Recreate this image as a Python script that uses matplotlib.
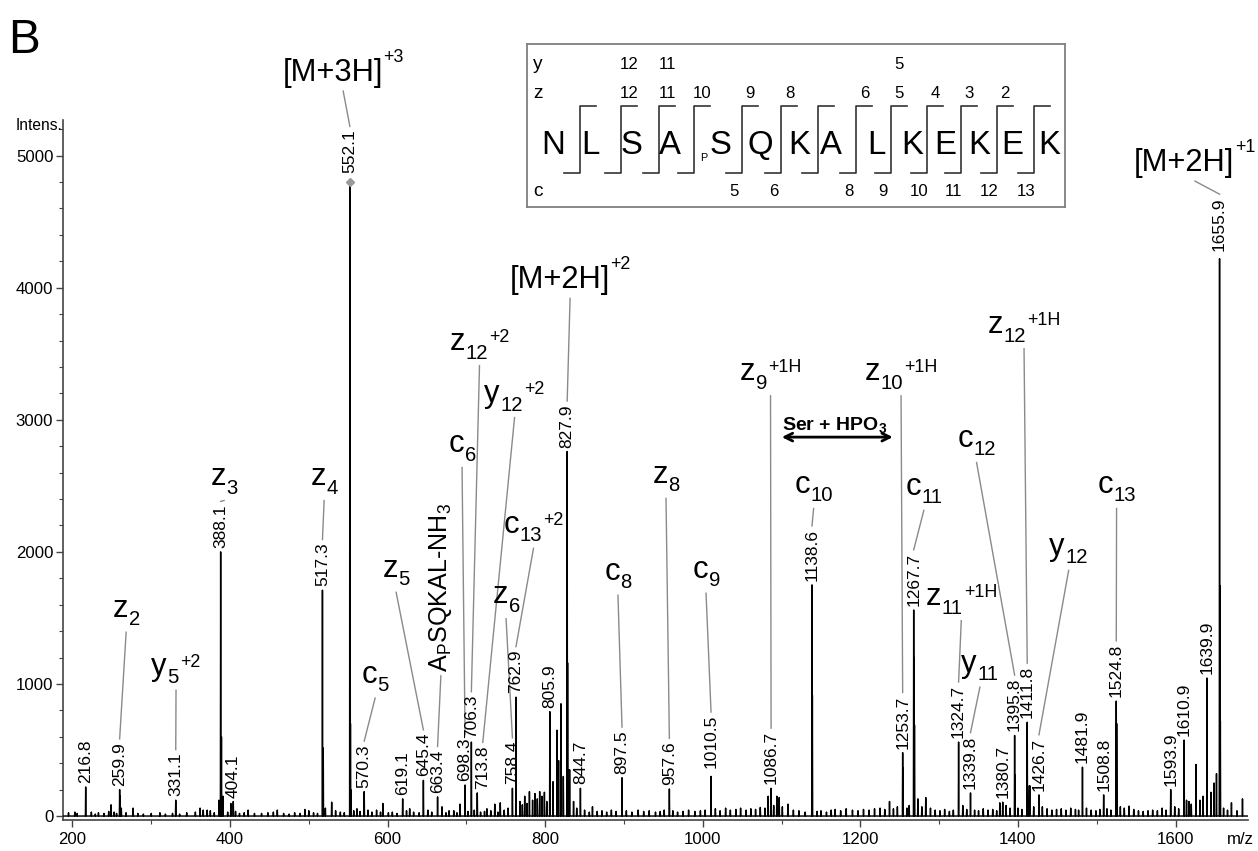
import numpy as np
import matplotlib.pyplot as plt
from matplotlib import font_manager
from matplotlib.ticker import MultipleLocator

# condensed sans if available, otherwise the normal one a little smaller
have = {f.name for f in font_manager.fontManager.ttflist}
if 'Liberation Sans Narrow' in have:
    FONT, FS = 'Liberation Sans Narrow', 1.0
else:
    FONT, FS = 'Liberation Sans', 0.86
plt.rcParams['font.family'] = [FONT, 'DejaVu Sans']
plt.rcParams['mathtext.fontset'] = 'custom'
plt.rcParams['mathtext.rm'] = FONT
plt.rcParams['mathtext.bf'] = 'Liberation Sans:bold'

# annotated peaks (m/z, intensity)
peak_mz = [216.8, 259.9, 331.1, 388.1, 404.1, 517.3, 552.1, 570.3, 619.1, 645.4,
           663.4, 698.3, 706.3, 713.8, 758.4, 762.9, 805.9, 827.9, 844.7, 897.5,
           957.6, 1010.5, 1086.7, 1138.6, 1253.7, 1267.7, 1324.7, 1339.8, 1380.7, 1395.8,
           1411.8, 1426.7, 1481.9, 1508.8, 1524.8, 1593.9, 1610.9, 1639.9, 1655.9]
peak_int = [220, 200, 120, 2000, 110, 1710, 4800, 185, 130, 270,
            145, 235, 560, 175, 210, 900, 790, 2760, 210, 290,
            205, 300, 210, 1750, 480, 1560, 560, 175, 105, 610,
            710, 160, 370, 160, 870, 200, 575, 1045, 4220]

# isotope / shoulder peaks next to the annotated ones
iso_mz = [260.4, 389.1, 518.3, 552.4, 552.8, 553.1, 828.4, 828.9, 1139.1,
          1254.2, 1268.2, 1268.7, 1396.3, 1412.3, 1525.3, 1656.4, 1656.9]
iso_int = [150, 600, 515, 2330, 700, 200, 1160, 350, 915,
           365, 1200, 690, 310, 230, 700, 1745, 720]

# small unlabelled peaks
low_mz = [195, 203, 206, 224, 229, 233, 240, 246, 249, 253,
          256, 262, 268, 277, 283, 290, 300, 311, 318, 327,
          336, 345, 356, 362, 366, 371, 375, 380, 386, 391,
          397, 401, 407, 412, 418, 423, 431, 440, 448, 455,
          460, 468, 475, 482, 489, 495, 500, 506, 511, 521,
          529, 534, 540, 545]
low_int = [25, 30, 20, 30, 15, 25, 20, 35, 85, 30,
           20, 60, 25, 60, 20, 15, 20, 25, 15, 20,
           15, 25, 30, 60, 45, 45, 40, 25, 120, 150,
           30, 95, 35, 20, 25, 45, 20, 20, 25, 30,
           45, 20, 15, 25, 20, 50, 40, 25, 20, 60,
           105, 40, 30, 25]

mid_mz = [557, 561, 565, 575, 580, 586, 591, 594, 601, 606,
          612, 624, 628, 633, 640, 651, 656, 669, 674, 678,
          684, 688, 692, 702, 710, 718, 723, 726, 731, 736,
          740, 743, 748, 753, 768, 771, 774, 777, 780, 784,
          787, 790, 793, 796, 799, 802, 810, 815, 817, 820,
          823, 831, 836, 840, 850, 856, 860, 866, 872, 878,
          884, 890, 903, 910, 918, 925, 932, 940, 946, 951,
          962, 968, 975, 982, 990, 997, 1003, 1016, 1022, 1029,
          1035, 1042, 1048, 1055, 1061, 1067, 1073, 1079, 1083, 1090,
          1094, 1097, 1101, 1108, 1115, 1122, 1130, 1145, 1150, 1157,
          1163, 1168, 1175, 1182, 1190, 1197, 1204, 1211, 1218, 1225,
          1231, 1237, 1242, 1247]
mid_int = [40, 55, 35, 45, 30, 45, 30, 95, 25, 30,
           20, 40, 55, 30, 25, 45, 30, 70, 25, 40,
           40, 25, 90, 35, 45, 30, 35, 55, 40, 90,
           30, 100, 45, 60, 110, 85, 150, 95, 185, 120,
           170, 130, 185, 150, 180, 110, 260, 650, 420, 850,
           300, 350, 110, 60, 45, 30, 70, 35, 40, 30,
           45, 35, 40, 30, 45, 35, 40, 30, 35, 45,
           40, 30, 35, 45, 35, 40, 45, 55, 40, 60,
           45, 50, 60, 45, 55, 50, 65, 60, 150, 80,
           150, 140, 70, 90, 45, 40, 30, 35, 40, 30,
           45, 50, 40, 55, 45, 40, 50, 45, 55, 60,
           50, 110, 55, 70]

high_mz = [1259, 1262, 1273, 1278, 1283, 1289, 1295, 1301, 1307, 1313,
           1318, 1330, 1335, 1345, 1350, 1356, 1362, 1368, 1373, 1377,
           1385, 1390, 1400, 1405, 1415, 1420, 1431, 1437, 1443, 1449,
           1455, 1461, 1467, 1473, 1477, 1487, 1493, 1499, 1504, 1513,
           1518, 1530, 1535, 1541, 1547, 1553, 1559, 1565, 1571, 1577,
           1583, 1588, 1599, 1604, 1614, 1617, 1620, 1626, 1631, 1635,
           1645, 1649, 1652, 1661, 1666, 1671, 1678, 1685]
high_int = [60, 80, 130, 70, 140, 60, 45, 40, 50, 35,
            45, 80, 50, 45, 40, 55, 45, 50, 40, 100,
            80, 60, 60, 50, 230, 70, 70, 55, 45, 50,
            55, 45, 60, 50, 45, 60, 45, 40, 50, 55,
            45, 70, 60, 75, 50, 40, 35, 40, 45, 40,
            60, 45, 70, 55, 120, 110, 90, 390, 120, 150,
            180, 250, 320, 60, 45, 100, 40, 130]

# fragment assignments
ion_peak = [552.1, 827.9, 706.3, 713.8, 698.3, 645.4, 570.3, 259.9, 331.1, 388.1,
            517.3, 762.9, 758.4, 897.5, 957.6, 1010.5, 1086.7, 1138.6, 1253.7, 1267.7,
            1324.7, 1395.8, 1411.8, 1426.7, 1524.8, 1339.8, 1655.9]
ion_name = ['[M+3H]', '[M+2H]', 'z', 'y', 'c', 'z', 'c', 'z', 'y', 'z',
            'z', 'c', 'z', 'c', 'z', 'c', 'z', 'c', 'z', 'c',
            'z', 'c', 'z', 'y', 'c', 'y', '[M+2H]']
ion_sub = ['', '', '12', '12', '6', '5', '5', '2', '5', '3',
           '4', '13', '6', '8', '8', '9', '9', '10', '10', '11',
           '11', '12', '12', '12', '13', '11', '']
ion_sup = ['+3', '+2', '+2', '+2', '', '', '', '', '+2', '',
           '', '+2', '', '', '', '', '+1H', '', '+1H', '',
           '+1H', '', '+1H', '', '', '', '+1']
ion_x = [594, 882, 698.0, 742.5, 696.8, 613, 586.4, 270.4, 319.9, 394.7,
         521.6, 766.6, 752.6, 894.7, 955.6, 1006.4, 1066.1, 1135.9, 1224.7, 1276.7,
         1302.1, 1342.7, 1380.8, 1459.5, 1520.4, 1347.8, 1675]
ion_y = [5565, 3995, 3526, 3133, 2755, 1810, 1009, 1508, 1069, 2505,
         2505, 2143, 1610, 1788, 2521, 1803, 3298, 2445, 3298, 2430,
         1595, 2793, 3654, 1976, 2445, 1092, 4883]

label_shift = {713.8: 7.0}
label_gap = {552.1: 9, 1655.9: 8, 1010.5: 8}

# peptide sequence for the fragment map
sequence = list('NLSASQKALKEKEK')
phospho_site = 4
letter_x = [553.5, 590.5, 632, 670, 720.5, 760, 799, 830.6, 876.5, 912, 945.5, 979, 1012.4, 1049.5]
cut_x = [580, 620.5, 659, 693.6, 741.6, 781, 818, 856, 890.6, 926.6, 960.5, 996.5, 1033.5]
z_ions = [12, 11, 10, 9, 8, 6, 5, 4, 3, 2]
y_ions = [12, 11, 5]
c_ions = [5, 6, 8, 9, 10, 11, 12, 13]

W, H = 1258, 851
fig = plt.figure(figsize=(W / 100, H / 100), dpi=100)
ax = fig.add_axes([63 / W, 1 - 820 / H, 1185 / W, 700 / H])
ax.set_xlim(188, 1692)
ax.set_ylim(-30, 5270)

# spectrum as a line through narrow triangular peaks
mz = np.array(peak_mz + iso_mz + low_mz + mid_mz + high_mz, dtype=float)
inten = np.array(peak_int + iso_int + low_int + mid_int + high_int, dtype=float)
order = np.argsort(mz)
mz, inten = mz[order], inten[order]
half = 0.35
xs = np.column_stack([mz - half, mz, mz + half]).ravel()
ys = np.column_stack([np.zeros_like(inten), inten, np.zeros_like(inten)]).ravel()
xs = np.concatenate([[188], xs, [1692]])
ys = np.concatenate([[0], ys, [0]])
ax.plot(xs, ys, color='black', lw=1.05, zorder=4)
ax.plot([552.1], [4800], marker='D', ms=4, color='#9a9a9a', zorder=5)

for s in ['top', 'right']:
    ax.spines[s].set_visible(False)
for s in ['left', 'bottom']:
    ax.spines[s].set_color('#444444')
    ax.spines[s].set_linewidth(1.2)
ax.xaxis.set_major_locator(MultipleLocator(200))
ax.xaxis.set_minor_locator(MultipleLocator(100))
ax.yaxis.set_major_locator(MultipleLocator(1000))
ax.yaxis.set_minor_locator(MultipleLocator(200))
ax.tick_params(which='major', length=5, width=1, color='#444444', labelsize=14 * FS, pad=2)
ax.tick_params(which='minor', length=3, width=0.8, color='#444444')
ax.tick_params(axis='x', which='major', pad=4)
ax.set_xticks(range(200, 1700, 200))
ax.set_yticks(range(0, 5001, 1000))

fig.text(62 / W, 1 - 125 / H, 'Intens.', ha='right', va='center', fontsize=13 * FS)
fig.text(1240 / W, 1 - 839 / H, 'm/z', ha='center', va='center', fontsize=14 * FS)
fig.text(8 / W, 1 - 53 / H, 'B', ha='left', va='baseline', fontsize=40 * FS)

# m/z value labels above peaks
num_text = {}
for m, h in zip(peak_mz, peak_int):
    gap = label_gap.get(m, 4) * 0.72
    num_text[m] = ax.annotate(f'{m:.1f}', xy=(m + label_shift.get(m, 0), h),
                              xytext=(0, gap), textcoords='offset points',
                              rotation=90, ha='center', va='bottom',
                              fontsize=14.5 * FS, annotation_clip=False, zorder=6)

# fragment ion names: main text, subscript and superscript
ion_parts = []
for name, sub, sup, x, y in zip(ion_name, ion_sub, ion_sup, ion_x, ion_y):
    parts = [ax.text(x, y, name, ha='right', va='baseline', fontsize=26 * FS, zorder=6)]
    sub_t = sup_t = None
    if sub:
        sub_t = ax.annotate(sub, (x, y), xytext=(0.5, -6), textcoords='offset points',
                            ha='left', va='baseline', fontsize=17 * FS,
                            annotation_clip=False, zorder=6)
        parts.append(sub_t)
    if sup:
        rise = 14 if name.startswith('[') else 6
        box = dict(fc='white', ec='none', pad=0.3) if 'H' in sup else None
        sup_t = ax.annotate(sup, (x, y), xytext=(0.5, rise), textcoords='offset points',
                            ha='left', va='baseline', fontsize=15 * FS, bbox=box,
                            annotation_clip=False, zorder=6)
        parts.append(sup_t)
    ion_parts.append((parts, sub_t, sup_t))

nh3 = ax.text(667.6, 1092, r'A$_\mathrm{P}$SQKAL-NH$_\mathrm{3}$', rotation=90,
              ha='center', va='bottom', fontsize=21 * FS, zorder=6)

# Ser + HPO3 mass difference
ax.annotate('', xy=(1100.3, 2869), xytext=(1241.2, 2869),
            arrowprops=dict(arrowstyle='<->', lw=2, color='black', mutation_scale=14,
                            shrinkA=0, shrinkB=0))
ax.text(1100.3, 2920, r'Ser + HPO$_\mathbf{3}$', fontweight='bold', family='Liberation Sans',
        fontsize=14, ha='left', va='baseline')

fig.canvas.draw()
r = fig.canvas.get_renderer()
# superscripts go after the subscript
for parts, sub_t, sup_t in ion_parts:
    if sub_t is not None and sup_t is not None:
        wpx = sub_t.get_window_extent(r).width
        sup_t.xyann = (0.5 + wpx * 0.72 + 1, sup_t.xyann[1])
fig.canvas.draw()

inv = ax.transData.inverted()


def leader(x0, y0, x1, y1):
    (a, b), (c, d) = inv.transform([(x0, y0), (x1, y1)])
    ax.plot([a, c], [b, d], color='#8a8a8a', lw=1, zorder=3, clip_on=False)


for (parts, sub_t, sup_t), m in zip(ion_parts, ion_peak):
    boxes = [p.get_window_extent(r) for p in parts]
    x0 = min(b.x0 for b in boxes)
    x1 = max(b.x1 for b in boxes)
    y0 = min(b.y0 for b in boxes)
    nb = num_text[m].get_window_extent(r)
    leader((x0 + x1) / 2, y0 - 3, (nb.x0 + nb.x1) / 2, nb.y1 + 3)

nb = num_text[663.4].get_window_extent(r)
bb = nh3.get_window_extent(r)
leader((bb.x0 + bb.x1) / 2, bb.y0 - 4, (nb.x0 + nb.x1) / 2, nb.y1 + 3)

# fragment map inset
ins = fig.add_axes([527 / W, 1 - 207 / H, (1065 - 527) / W, (207 - 44) / H])
ins.set_xlim(527, 1065)
ins.set_ylim(207, 44)
ins.set_xticks([])
ins.set_yticks([])
for s in ins.spines.values():
    s.set_color('#7f7f7f')
    s.set_linewidth(1.3)

for i, (aa, x) in enumerate(zip(sequence, letter_x)):
    ins.text(x, 154, aa, ha='center', va='baseline', fontsize=27.5 * FS)
    if i == phospho_site:
        ins.text(703.5, 161, 'P', ha='center', va='baseline', fontsize=9 * FS)
for x in cut_x:
    ins.plot([x - 16, x, x, x + 16], [173, 173, 106, 106], color='#333333', lw=1.2)

for lab, yy in zip(['y', 'z', 'c'], [64.6, 93.7, 191.5]):
    ins.text(537.6, yy, lab, ha='center', va='center', fontsize=16 * FS)
for n in z_ions:
    ins.text(cut_x[14 - n - 1] + 8.5, 93.7, str(n), ha='center', va='center', fontsize=14 * FS)
for n in y_ions:
    ins.text(cut_x[14 - n - 1] + 8.5, 64.6, str(n), ha='center', va='center', fontsize=14 * FS)
for n in c_ions:
    ins.text(cut_x[n - 1] - 7.5, 191.5, str(n), ha='center', va='center', fontsize=14 * FS)

fig.savefig('out.png', dpi=100)
